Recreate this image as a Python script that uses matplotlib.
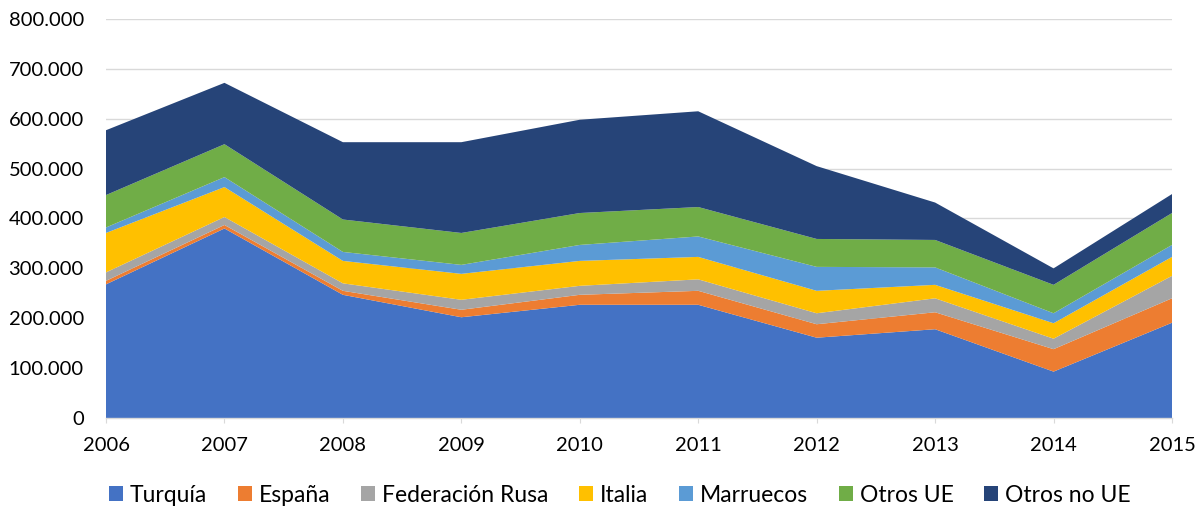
import matplotlib
matplotlib.use("Agg")
import matplotlib.pyplot as plt
from matplotlib.ticker import FuncFormatter, MultipleLocator
from matplotlib.patches import Patch

years = [2006, 2007, 2008, 2009, 2010, 2011, 2012, 2013, 2014, 2015]
turquia = [268000, 380000, 247000, 202000, 227000, 227000, 161000, 178000, 93000, 191000]
espana = [7000, 7000, 8000, 15000, 20000, 28000, 27000, 34000, 45000, 49000]
rusa = [17000, 16000, 15000, 20000, 18000, 23000, 22000, 28000, 21000, 45000]
italia = [79000, 60000, 45000, 52000, 50000, 45000, 45000, 27000, 31000, 38000]
marruecos = [11000, 20000, 18000, 18000, 32000, 41000, 48000, 35000, 20000, 24000]
otros_ue = [65000, 66000, 65000, 64000, 64000, 59000, 56000, 55000, 57000, 64000]
otros_no_ue = [130000, 123000, 155000, 182000, 187000, 192000, 146000, 75000, 33000, 38000]

labels = ["Turquía", "España", "Federación Rusa", "Italia", "Marruecos", "Otros UE", "Otros no UE"]
colors = ["#4472C4", "#ED7D31", "#A5A5A5", "#FFC000", "#5B9BD5", "#70AD47", "#264478"]

plt.rcParams['font.family'] = ['Lato', 'DejaVu Sans']

fig = plt.figure(figsize=(12.04, 5.13), dpi=100)
ax = fig.add_axes([106/1204, 1-418/513, (1172-106)/1204, 399/513])

ax.stackplot(years, turquia, espana, rusa, italia, marruecos, otros_ue, otros_no_ue,
             colors=colors, linewidth=0)

ax.set_xlim(2006, 2015)
ax.set_ylim(0, 800000)
ax.yaxis.set_major_locator(MultipleLocator(100000))
ax.yaxis.set_major_formatter(FuncFormatter(lambda v, p: "0" if v == 0 else f"{int(v):,}".replace(",", ".")))
ax.set_xticks(years)
ax.grid(axis='y', color='#D9D9D9', linewidth=1)
ax.set_axisbelow(True)
for s in ['top', 'right', 'left']:
    ax.spines[s].set_visible(False)
ax.spines['bottom'].set_color('#D9D9D9')
ax.spines['bottom'].set_linewidth(1)
ax.tick_params(axis='y', length=0, labelsize=14.5, pad=16, colors='black')
ax.tick_params(axis='x', length=3.6, color='#D9D9D9', labelsize=14.5, pad=10)

handles = [Patch(facecolor=c, edgecolor='none') for c in colors]
fig.legend(handles, labels, loc='center', bbox_to_anchor=(0.515, 1-495/513), ncol=7,
           frameon=False, fontsize=16.5, handlelength=0.6, handleheight=0.6,
           handletextpad=0.3, columnspacing=1.35)

fig.savefig("out.png", dpi=100)
